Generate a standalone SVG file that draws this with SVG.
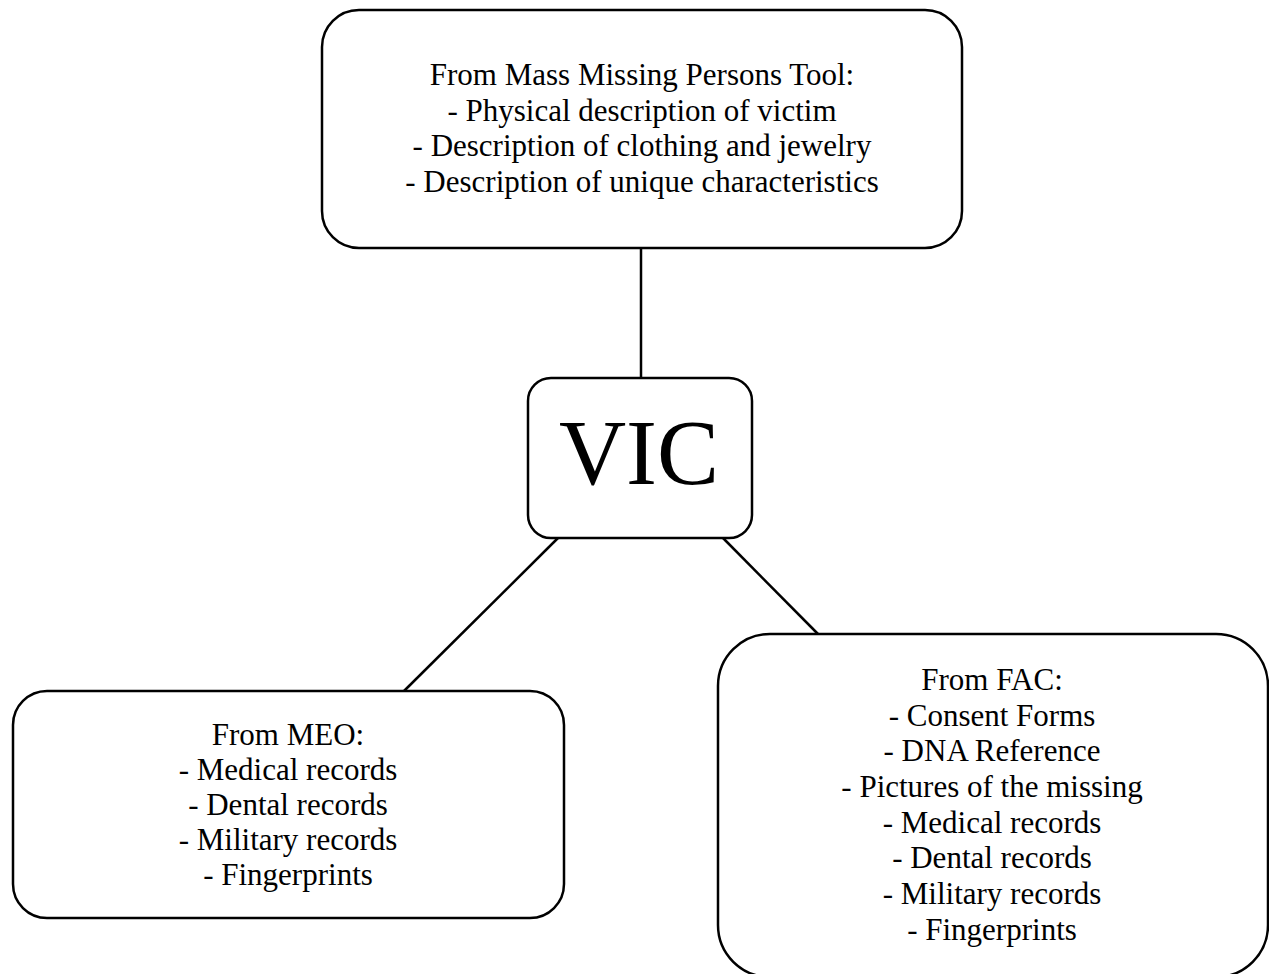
<svg xmlns="http://www.w3.org/2000/svg" width="1269" height="974" viewBox="0 0 1269 974">
<style>
.box{fill:#fff;stroke:#000;stroke-width:2.5}
.edge{stroke:#000;stroke-width:2.5;fill:none}
.t{font-family:"Liberation Serif","Times New Roman",serif;font-size:31px;fill:#000;text-anchor:middle}
.big{font-family:"Liberation Serif","Times New Roman",serif;font-size:93px;fill:#000;text-anchor:middle}
</style>
<rect width="1269" height="974" fill="#fff"/>
<g id="connectors">
<line class="edge" x1="641" y1="248" x2="641" y2="378"/>
<line class="edge" x1="558" y1="538" x2="404" y2="691"/>
<line class="edge" x1="723" y1="538" x2="818" y2="634"/>
</g>
<g id="node-mmpt">
<rect class="box" x="322" y="10" width="640" height="238" rx="37"/>
<text class="t" x="642" y="85">From Mass Missing Persons Tool:</text>
<text class="t" x="642" y="120.5">- Physical description of victim</text>
<text class="t" x="642" y="156">- Description of clothing and jewelry</text>
<text class="t" x="642" y="191.5">- Description of unique characteristics</text>
</g>
<g id="node-vic">
<rect class="box" x="528" y="378" width="224" height="160" rx="23"/>
<text class="big" x="639" y="484">VIC</text>
</g>
<g id="node-meo">
<rect class="box" x="13" y="691" width="551" height="227" rx="34"/>
<text class="t" x="288" y="745">From MEO:</text>
<text class="t" x="288" y="780">- Medical records</text>
<text class="t" x="288" y="815">- Dental records</text>
<text class="t" x="288" y="850">- Military records</text>
<text class="t" x="288" y="885">- Fingerprints</text>
</g>
<g id="node-fac">
<rect class="box" x="718" y="634" width="550" height="343" rx="52"/>
<text class="t" x="992" y="690">From FAC:</text>
<text class="t" x="992" y="726">- Consent Forms</text>
<text class="t" x="992" y="761">- DNA Reference</text>
<text class="t" x="992" y="797">- Pictures of the missing</text>
<text class="t" x="992" y="833">- Medical records</text>
<text class="t" x="992" y="868">- Dental records</text>
<text class="t" x="992" y="904">- Military records</text>
<text class="t" x="992" y="940">- Fingerprints</text>
</g>
</svg>
